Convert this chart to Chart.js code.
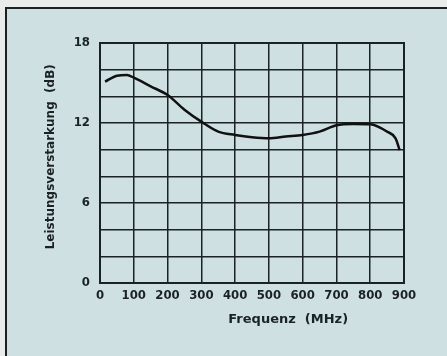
<!DOCTYPE html>
<html>
<head>
<meta charset="utf-8">
<script src="https://cdn.jsdelivr.net/npm/chart.js@4/dist/chart.umd.min.js"></script>
<style>
  html, body { margin: 0; padding: 0; background: #e9eceb; }
  #frame {
    position: absolute; left: 5px; top: 7px; width: 460px; height: 360px;
    background: #cfe0e3; border-left: 2px solid #1b2224; border-top: 2px solid #1b2224;
  }
  #wrap { position: absolute; left: 0; top: 0; width: 447px; height: 356px; }
</style>
</head>
<body>
<div id="frame"></div>
<div id="wrap"><canvas id="chart" width="447" height="356"></canvas></div>
<script>
// Frequenz (MHz) und Leistungsverstaerkung (dB)
var freq = [15, 50, 80, 100, 150, 200, 250, 300, 350, 400, 450, 500, 550, 600, 650, 700, 750, 800, 850, 875, 887];
var gain = [15.1, 15.55, 15.6, 15.4, 14.75, 14.1, 13.0, 12.1, 11.35, 11.1, 10.93, 10.85, 10.98, 11.1, 11.35, 11.83, 11.93, 11.9, 11.35, 10.85, 9.97];
var yLabels = [0, 6, 12, 18];

var points = freq.map(function (f, i) { return { x: f, y: gain[i] }; });
var ink = '#1b2224';
var tickFont = { family: 'DejaVu Sans Condensed, DejaVu Sans', size: 13, weight: 'bold' };
var titleFont = { family: 'DejaVu Sans', size: 12, weight: 'bold' };
var xTitleFont = { family: 'DejaVu Sans', size: 13, weight: 'bold' };

var ctx = document.getElementById('chart');
var myChart = new Chart(ctx, {
    type: 'line',
    data: {
        datasets: [{
            data: points,
            borderColor: '#111',
            borderWidth: 2.5,
            pointRadius: 0,
            fill: false,
            tension: 0.4,
            cubicInterpolationMode: 'monotone'
        }]
    },
    options: {
        responsive: false,
        animation: false,
        layout: { padding: { top: 43, right: 43, bottom: 25, left: 40 } },
        plugins: { legend: { display: false }, tooltip: { enabled: false } },
        scales: {
            x: {
                type: 'linear', min: 0, max: 900,
                ticks: { stepSize: 100, color: ink, font: tickFont, padding: 5, maxRotation: 0 },
                grid: { color: ink, lineWidth: 1.5, drawTicks: false },
                border: { color: ink, width: 2 },
                // leading spaces push the title right, as in the original
                title: { display: true, text: '\u00a0'.repeat(16) + 'Frequenz  (MHz)', color: ink, font: xTitleFont },
                afterFit: function (s) { s.height = 48; }
            },
            y: {
                min: 0, max: 18,
                ticks: {
                    stepSize: 2, color: ink, font: tickFont, padding: 10,
                    callback: function (v) { return yLabels.indexOf(v) >= 0 ? v : ''; }
                },
                grid: { color: ink, lineWidth: 1.5, drawTicks: false },
                border: { color: ink, width: 2 },
                title: { display: true, text: '\u00a0\u00a0\u00a0Leistungsverstarkung  (dB)', color: ink, font: titleFont },
                afterFit: function (s) { s.width = 60; }
            }
        }
    },
    plugins: [{
        id: 'rahmen',
        afterDraw: function (c) {
            var a = c.chartArea, g = c.ctx;
            g.save();
            g.strokeStyle = ink;
            g.lineWidth = 2;
            g.strokeRect(a.left, a.top, a.right - a.left, a.bottom - a.top);
            g.restore();
        }
    }]
});
</script>
</body>
</html>
